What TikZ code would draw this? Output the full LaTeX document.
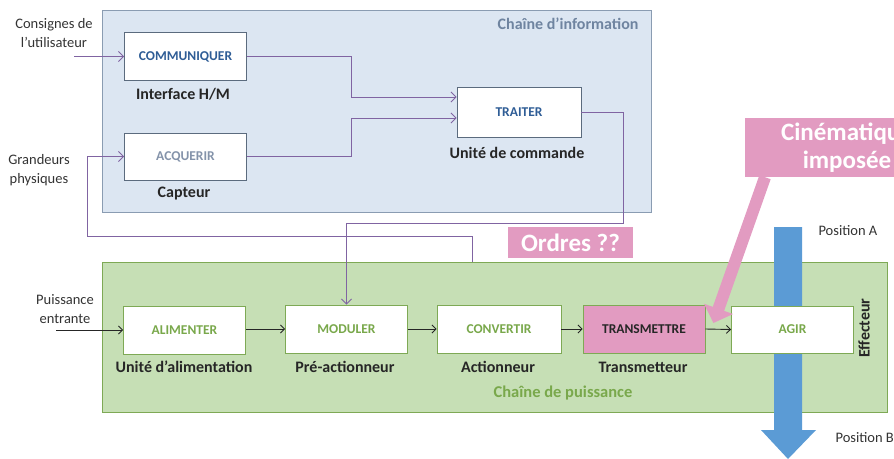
\documentclass[tikz,border=0pt]{standalone}
\usepackage{fontspec}
\setmainfont{Carlito}
\usetikzlibrary{arrows.meta}

\definecolor{infofond}{HTML}{DCE6F2}
\definecolor{infobord}{HTML}{8A9CB2}
\definecolor{infotexte}{HTML}{6F84A0}
\definecolor{infobloc}{HTML}{5B6B7E}
\definecolor{bleufonce}{HTML}{2F5D96}
\definecolor{bleugris}{HTML}{8493AA}
\definecolor{puisfond}{HTML}{C6DFB5}
\definecolor{puisbord}{HTML}{7EA955}
\definecolor{puistexte}{HTML}{79A84B}
\definecolor{rose}{HTML}{E29BC1}
\definecolor{violet}{HTML}{8064A2}
\definecolor{bleuposition}{HTML}{5B9BD5}

\begin{document}
\begin{tikzpicture}[
    x=1pt,
    y=-1pt,
    bloc/.style={draw, fill=white, line width=0.9pt, minimum width=122pt, minimum height=48pt,
        font=\fontsize{13.5}{15}\selectfont\bfseries},
    blocinfo/.style={bloc, draw=infobloc},
    blocpuis/.style={bloc, draw=puisbord, text=puistexte},
    legende/.style={font=\fontsize{16}{18}\selectfont\bfseries, text=black!85},
    entree/.style={font=\fontsize{14.5}{19}\selectfont, text=black!80, align=center},
    signal/.style={draw=violet, line width=0.9pt, -{Straight Barb[length=5pt,width=10pt]}},
    puissance/.style={draw=black!85, line width=0.9pt, -{Straight Barb[length=4pt,width=8pt]}},
    etiquette/.style={fill=rose, text=white, font=\fontsize{25}{28}\selectfont\bfseries}
]
\useasboundingbox (0,0) rectangle (894,458);

% les deux chaines
\draw[fill=infofond, draw=infobord, line width=0.9pt] (102,10) rectangle (651,212);
\node[anchor=north east, text=infotexte, font=\fontsize{16}{18}\selectfont\bfseries] (titreinfo) at (642,14) {Chaîne d'information};
\draw[fill=puisfond, draw=puisbord, line width=0.9pt] (102,262) rectangle (887,412);
\node[text=puistexte, font=\fontsize{16.5}{18}\selectfont\bfseries] (titrepuis) at (563,393) {Chaîne de puissance};

% deplacement impose
\fill[bleuposition] (774,227) -- (802,227) -- (802,430) -- (816,430) -- (788,459)
    -- (761,430) -- (774,430) -- cycle;
\node[anchor=west, entree] (posa) at (815,231) {Position A};
\node[anchor=west, entree] (posb) at (832,438) {Position B};

% chaine d'information
\node[blocinfo, text=bleufonce] (communiquer) at (185.5,56.5) {COMMUNIQUER};
\node[blocinfo, text=bleugris, minimum height=47pt] (acquerir) at (185.5,156.5) {ACQUERIR};
\node[blocinfo, text=bleufonce, minimum width=124pt, minimum height=50pt] (traiter) at (519,112) {TRAITER};
\node[legende] (ihm) at (183,94) {Interface H/M};
\node[legende] (capteur) at (184,194) {Capteur};
\node[legende] (uc) at (517,153) {Unité de commande};

% chaine de puissance
\node[blocpuis] (alimenter) at (184.5,330) {ALIMENTER};
\node[blocpuis] (moduler) at (346.5,329) {MODULER};
\node[blocpuis, minimum width=124pt] (convertir) at (499,329) {CONVERTIR};
\node[blocpuis, fill=rose, text=black!85] (transmettre) at (644,329) {TRANSMETTRE};
\node[blocpuis, minimum height=47pt] (agir) at (792.5,329.5) {AGIR};
\node[legende] (ua) at (184,367) {Unité d'alimentation};
\node[legende] (preact) at (345,367) {Pré-actionneur};
\node[legende] (actionneur) at (498,367) {Actionneur};
\node[legende] (transmetteur) at (643,367) {Transmetteur};
\node[legende, rotate=90] (effecteur) at (864,328) {Effecteur};

% entrees
\node[entree] (consignes) at (54,33) {Consignes de\\l'utilisateur};
\node[entree] (grandeurs) at (39,170) {Grandeurs\\physiques};
\node[entree] (puissin) at (65,309) {Puissance\\entrante};
\coordinate (cin) at (74,56.5);
\coordinate (pin) at (56,330);
\coordinate (retour) at (472,262);
\coordinate (gauche) at (87,236);
\coordinate (ordres) at (623,223);

\draw[signal] (cin) -- (communiquer.west);
\draw[signal] (communiquer.east) -- ++(104,0) |- ([yshift=15pt]traiter.west);
\draw[signal] (acquerir.east) -- ++(104,0) |- ([yshift=-6pt]traiter.west);
\draw[signal] (traiter.east) -| (ordres) -| (moduler.north);
\draw[signal] (retour) |- (gauche) |- (acquerir.west);

\draw[puissance] (pin) -- (alimenter.west);
\draw[puissance] (alimenter.east |- moduler) -- (moduler.west);
\draw[puissance] (moduler.east) -- (convertir.west);
\draw[puissance] (convertir.east) -- (transmettre.west);
\draw[puissance] (transmettre.east) -- (agir.west);

% questions
\node[etiquette, minimum width=125pt, minimum height=31pt, inner sep=0pt] (ordrestxt) at (570.5,242.5) {Ordres ??};
\node[etiquette, align=center, minimum width=204pt, minimum height=59pt, inner sep=0pt] (cinematique) at (847,147.5) {Cinématique\\imposée};
\draw[rose, line width=12pt, -{Triangle[length=15pt,width=30pt]}]
    ([xshift=-82pt]cinematique.south) -- ([shift={(8,-6)}]transmettre.east);

\end{tikzpicture}
\end{document}
